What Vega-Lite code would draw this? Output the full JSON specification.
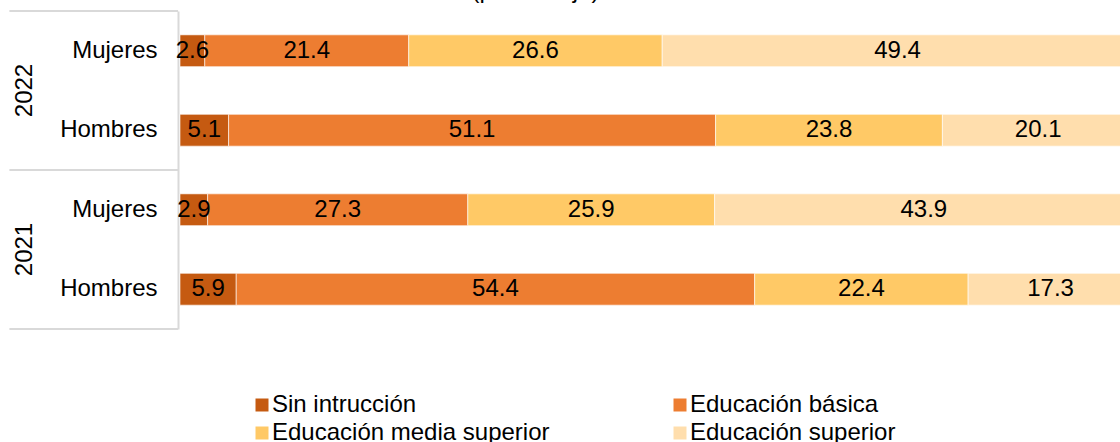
{
  "$schema": "https://vega.github.io/schema/vega-lite/v6.json",
  "width": 953,
  "height": 318,
  "autosize": {"type": "none"},
  "padding": {"left": 180, "top": 11, "right": 0, "bottom": 113},
  "background": "white",
  "config": {"view": {"stroke": null}, "font": "Liberation Sans"},
  "title": {"text": "(porcentaje)", "fontSize": 24, "font": "Liberation Sans", "fontWeight": "normal", "color": "black", "anchor": "middle", "dx": -121, "offset": 7},
  "datasets": {
    "valores": [
      {"grupo": "2022 Mujeres", "nivel": "Sin intrucción", "orden": 1, "valor": 2.6},
      {"grupo": "2022 Mujeres", "nivel": "Educación básica", "orden": 2, "valor": 21.4},
      {"grupo": "2022 Mujeres", "nivel": "Educación media superior", "orden": 3, "valor": 26.6},
      {"grupo": "2022 Mujeres", "nivel": "Educación superior", "orden": 4, "valor": 49.4},
      {"grupo": "2022 Hombres", "nivel": "Sin intrucción", "orden": 1, "valor": 5.1},
      {"grupo": "2022 Hombres", "nivel": "Educación básica", "orden": 2, "valor": 51.1},
      {"grupo": "2022 Hombres", "nivel": "Educación media superior", "orden": 3, "valor": 23.8},
      {"grupo": "2022 Hombres", "nivel": "Educación superior", "orden": 4, "valor": 20.1},
      {"grupo": "2021 Mujeres", "nivel": "Sin intrucción", "orden": 1, "valor": 2.9},
      {"grupo": "2021 Mujeres", "nivel": "Educación básica", "orden": 2, "valor": 27.3},
      {"grupo": "2021 Mujeres", "nivel": "Educación media superior", "orden": 3, "valor": 25.9},
      {"grupo": "2021 Mujeres", "nivel": "Educación superior", "orden": 4, "valor": 43.9},
      {"grupo": "2021 Hombres", "nivel": "Sin intrucción", "orden": 1, "valor": 5.9},
      {"grupo": "2021 Hombres", "nivel": "Educación básica", "orden": 2, "valor": 54.4},
      {"grupo": "2021 Hombres", "nivel": "Educación media superior", "orden": 3, "valor": 22.4},
      {"grupo": "2021 Hombres", "nivel": "Educación superior", "orden": 4, "valor": 17.3}
    ],
    "anios": [
      {"anio": "2022", "grupo": "2022 Mujeres"},
      {"anio": "2021", "grupo": "2021 Mujeres"}
    ],
    "bordesInicio": [
      {"grupo": "2022 Mujeres"},
      {"grupo": "2021 Mujeres"}
    ],
    "bordesFin": [
      {"grupo": "2021 Hombres"}
    ]
  },
  "layer": [
    {
      "data": {"name": "valores"},
      "mark": {"type": "bar", "height": {"band": 0.4}, "stroke": "white", "strokeWidth": 0.6},
      "encoding": {
        "y": {
          "field": "grupo", "type": "nominal",
          "scale": {"domain": ["2022 Mujeres", "2022 Hombres", "2021 Mujeres", "2021 Hombres"], "paddingInner": 0, "paddingOuter": 0},
          "axis": {"title": null, "labelExpr": "split(datum.label, ' ')[1]", "labelFontSize": 24, "labelFont": "Liberation Sans", "labelColor": "black", "ticks": false, "labelPadding": 21, "domainColor": "#D9D9D9", "domainWidth": 2, "offset": 2, "grid": false}
        },
        "x": {"field": "valor", "type": "quantitative", "stack": "zero", "scale": {"domain": [0, 100], "nice": false}, "axis": null},
        "color": {
          "field": "nivel", "type": "nominal",
          "scale": {"domain": ["Sin intrucción", "Educación básica", "Educación media superior", "Educación superior"], "range": ["#C55A11", "#ED7D31", "#FFC966", "#FFDEAD"]},
          "legend": {"orient": "none", "legendX": 70, "legendY": 382, "title": null, "columns": 2, "columnPadding": 118, "rowPadding": 4, "symbolType": "square", "symbolSize": 169, "symbolStrokeWidth": 0, "labelFontSize": 24, "labelFont": "Liberation Sans", "labelColor": "black", "labelOffset": -2, "labelLimit": 500, "direction": "horizontal"}
        },
        "order": {"field": "orden", "type": "quantitative"}
      }
    },
    {
      "data": {"name": "valores"},
      "mark": {"type": "text", "fontSize": 24, "font": "Liberation Sans", "color": "black", "align": "center", "baseline": "middle"},
      "encoding": {
        "y": {"field": "grupo", "type": "nominal"},
        "x": {"field": "valor", "type": "quantitative", "stack": "zero", "bandPosition": 0.5},
        "detail": {"field": "nivel", "type": "nominal"},
        "order": {"field": "orden", "type": "quantitative"},
        "text": {"field": "valor", "type": "quantitative", "format": ".1f"}
      }
    },
    {
      "data": {"name": "anios"},
      "mark": {"type": "text", "fontSize": 24, "font": "Liberation Sans", "color": "black", "angle": 270, "align": "center", "baseline": "middle"},
      "encoding": {
        "y": {"field": "grupo", "type": "nominal", "bandPosition": 1},
        "x": {"datum": -16.3, "type": "quantitative"},
        "text": {"field": "anio", "type": "nominal"}
      }
    },
    {
      "data": {"name": "bordesInicio"},
      "mark": {"type": "rule", "color": "#D9D9D9", "strokeWidth": 2},
      "encoding": {
        "y": {"field": "grupo", "type": "nominal", "bandPosition": 0},
        "x": {"datum": -17.9, "type": "quantitative"},
        "x2": {"datum": -0.2}
      }
    },
    {
      "data": {"name": "bordesFin"},
      "mark": {"type": "rule", "color": "#D9D9D9", "strokeWidth": 2},
      "encoding": {
        "y": {"field": "grupo", "type": "nominal", "bandPosition": 1},
        "x": {"datum": -17.9, "type": "quantitative"},
        "x2": {"datum": -0.2}
      }
    }
  ]
}
